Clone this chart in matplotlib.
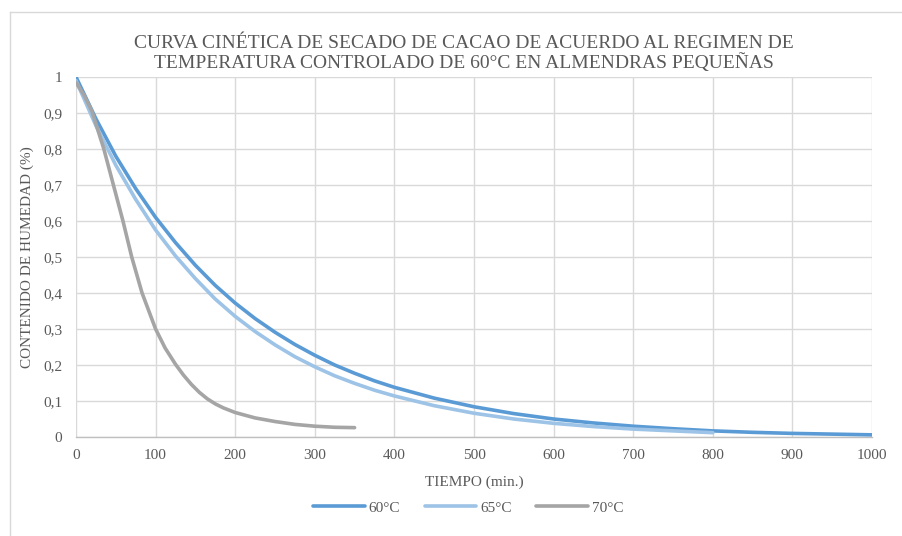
import matplotlib
matplotlib.use("Agg")
import matplotlib.pyplot as plt
from matplotlib.lines import Line2D
from matplotlib.ticker import FuncFormatter, MultipleLocator

plt.rcParams["font.family"] = ["Liberation Serif", "DejaVu Serif"]

# ── data ──────────────────────────────────────────────────────────────────────
t_60 = [0, 25, 50, 75, 100, 125, 150, 175, 200, 225, 250, 275, 300, 325, 350,
        375, 400, 450, 500, 550, 600, 650, 700, 750, 800, 850, 900, 950, 1000]
h_60 = [1.0, 0.884, 0.78, 0.69, 0.61, 0.54, 0.477, 0.421, 0.372, 0.329, 0.291,
        0.257, 0.227, 0.2, 0.177, 0.156, 0.138, 0.108, 0.084, 0.065, 0.05,
        0.039, 0.03, 0.023, 0.017, 0.013, 0.01, 0.008, 0.006]

t_65 = [0, 25, 50, 75, 100, 125, 150, 175, 200, 225, 250, 275, 300, 325, 350,
        375, 400, 450, 500, 550, 600, 650, 700, 750, 800]
h_65 = [0.99, 0.865, 0.755, 0.66, 0.575, 0.503, 0.44, 0.383, 0.335, 0.293,
        0.256, 0.223, 0.195, 0.17, 0.149, 0.13, 0.114, 0.087, 0.066, 0.05,
        0.038, 0.029, 0.022, 0.017, 0.012]

t_70 = [0, 10, 20, 35, 47, 59, 70, 83, 100, 112, 125, 135, 145, 155, 165, 175,
        185, 200, 225, 250, 275, 300, 325, 350]
h_70 = [0.985, 0.95, 0.905, 0.80, 0.70, 0.60, 0.50, 0.40, 0.30, 0.247, 0.202,
        0.172, 0.146, 0.124, 0.106, 0.092, 0.081, 0.068, 0.053, 0.043, 0.035,
        0.030, 0.027, 0.026]

labels = ["60°C", "65°C", "70°C"]
colors = ["#5B9BD5", "#9DC3E6", "#A5A5A5"]
TEXT = "#595959"

# ── figure ────────────────────────────────────────────────────────────────────
W, H = 902, 536
fig = plt.figure(figsize=(W / 100, H / 100), dpi=100)

# chart-area border (only top and left edges fall inside the picture)
x_b, y_b = 10 / W, 1 - 11.5 / H
fig.lines.append(Line2D([x_b, 1.0], [y_b, y_b], transform=fig.transFigure,
                        color="#d9d9d9", linewidth=1))
fig.lines.append(Line2D([x_b, x_b], [0.0, y_b], transform=fig.transFigure,
                        color="#d9d9d9", linewidth=1))

ax = fig.add_axes([76 / W, 1 - 437 / H, (872 - 76) / W, (437 - 77) / H])

for t, h, lab, c in zip([t_60, t_65, t_70], [h_60, h_65, h_70], labels, colors):
    ax.plot(t, h, color=c, linewidth=2.6, label=lab, solid_capstyle="round",
            solid_joinstyle="round", zorder=3)

ax.set_xlim(0, 1000)
ax.set_ylim(0, 1)
ax.xaxis.set_major_locator(MultipleLocator(100))
ax.yaxis.set_major_locator(MultipleLocator(0.1))


def _fmt(v, _):
    s = f"{v:.1f}".replace(".", ",")
    return s[:-2] if s.endswith(",0") else s


ax.yaxis.set_major_formatter(FuncFormatter(_fmt))

ax.grid(True, color="#d9d9d9", linewidth=1)
ax.set_axisbelow(True)
for s in ["top", "right", "left"]:
    ax.spines[s].set_visible(False)
ax.spines["bottom"].set_color("#bfbfbf")
ax.spines["bottom"].set_linewidth(1)
ax.tick_params(length=0, labelsize=11, colors=TEXT)
ax.tick_params(axis="x", pad=8.5)
ax.tick_params(axis="y", pad=10)

ax.set_xlabel("TIEMPO (min.)", fontsize=11, color=TEXT)
ax.xaxis.label.set_va("center")
ax.xaxis.set_label_coords(0.5, (437 - 482) / 360)

ax.set_ylabel("CONTENIDO DE HUMEDAD (%)", fontsize=11, color=TEXT)
ax.yaxis.label.set_va("center")
ax.yaxis.set_label_coords((27.5 - 76) / 796, 0.5)

fig.text(0.514, 1 - 53.5 / H,
         "CURVA CINÉTICA DE SECADO DE CACAO DE ACUERDO AL REGIMEN DE\n"
         "TEMPERATURA CONTROLADO DE 60°C EN ALMENDRAS PEQUEÑAS",
         ha="center", va="center", fontsize=14, color=TEXT,
         linespacing=1.08)

fig.legend(loc="center", bbox_to_anchor=(0.519, 1 - 508 / H), ncol=3,
           frameon=False, fontsize=11, handlelength=3.4, columnspacing=1.6,
           handletextpad=0.25, labelcolor=TEXT)

fig.savefig("out.png", dpi=100)
